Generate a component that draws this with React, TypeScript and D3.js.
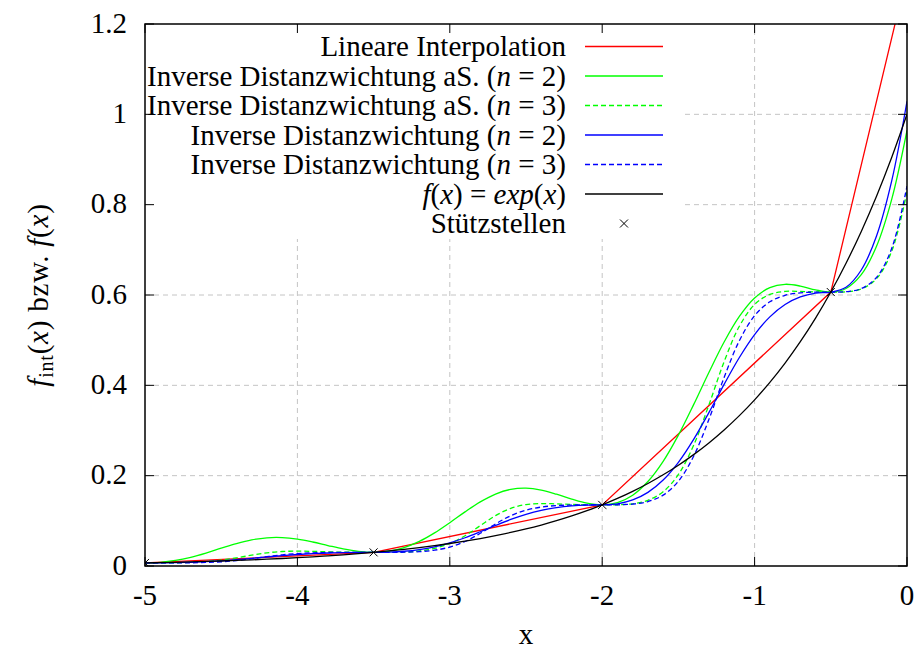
import React from "react";
import * as d3 from "d3";

// sample positions of the curves
const xs = [
  -5.0, -4.9, -4.8, -4.7, -4.6, -4.5, -4.4, -4.3, -4.2, -4.1, -4.0, -3.9, -3.8, -3.7, -3.6, -3.5, -3.4,
  -3.3, -3.2, -3.1, -3.0, -2.9, -2.8, -2.7, -2.6, -2.5, -2.4, -2.3, -2.2, -2.1, -2.0, -1.9, -1.8, -1.7,
  -1.6, -1.5, -1.4, -1.3, -1.2, -1.1, -1.0, -0.9, -0.8, -0.7, -0.6, -0.5, -0.4, -0.3, -0.2, -0.1, 0.0,
];

// f(x) = exp(x)
const expValues = [
  0.00674, 0.00745, 0.00823, 0.0091, 0.01005, 0.01111, 0.01228, 0.01357, 0.015, 0.01657, 0.01832,
  0.02024, 0.02237, 0.02472, 0.02732, 0.0302, 0.03337, 0.03688, 0.04076, 0.04505, 0.04979, 0.05502,
  0.06081, 0.06721, 0.07427, 0.08208, 0.09072, 0.10026, 0.1108, 0.12246, 0.13534, 0.14957, 0.1653,
  0.18268, 0.2019, 0.22313, 0.2466, 0.27253, 0.30119, 0.33287, 0.36788, 0.40657, 0.44933, 0.49659,
  0.54881, 0.60653, 0.67032, 0.74082, 0.81873, 0.90484, 1.0,
];

// Inverse Distanzwichtung aS. (n = 2)
const idwAllN2 = [
  0.00674, 0.00809, 0.01229, 0.01932, 0.02869, 0.03931, 0.0496, 0.05781, 0.06249, 0.06297, 0.0595,
  0.05313, 0.04536, 0.03788, 0.03234, 0.0302, 0.03269, 0.04065, 0.05435, 0.07326, 0.09589, 0.1198,
  0.14193, 0.15927, 0.16964, 0.17229, 0.16803, 0.15899, 0.1482, 0.13913, 0.13534, 0.14021, 0.15671,
  0.18696, 0.23171, 0.28969, 0.35725, 0.42841, 0.49581, 0.55242, 0.5932, 0.6164, 0.62372, 0.61978,
  0.61133, 0.60653, 0.6145, 0.64499, 0.70793, 0.81235, 0.96451,
];

// Inverse Distanzwichtung aS. (n = 3)
const idwAllN3 = [
  0.00674, 0.00677, 0.00704, 0.00788, 0.00972, 0.01305, 0.01803, 0.02393, 0.02911, 0.03212, 0.03289,
  0.03232, 0.03138, 0.03063, 0.03026, 0.0302, 0.03029, 0.03102, 0.03343, 0.03908, 0.04987, 0.06709,
  0.08935, 0.11151, 0.12771, 0.13596, 0.13823, 0.13759, 0.1363, 0.13549, 0.13534, 0.13558, 0.13777,
  0.14543, 0.16439, 0.20268, 0.26738, 0.35652, 0.45241, 0.53069, 0.57899, 0.60125, 0.60791, 0.60798,
  0.60684, 0.60653, 0.60716, 0.61323, 0.63614, 0.69702, 0.82874,
];

// Inverse Distanzwichtung (n = 2)
const idwN2 = [
  0.00674, 0.00686, 0.00728, 0.00812, 0.00948, 0.01143, 0.01396, 0.01691, 0.02002, 0.02298, 0.02551,
  0.02746, 0.02882, 0.02966, 0.03008, 0.0302, 0.03073, 0.03263, 0.03638, 0.04248, 0.05122, 0.06255,
  0.07579, 0.08974, 0.10299, 0.11431, 0.12306, 0.12915, 0.1329, 0.1348, 0.13534, 0.13773, 0.14623,
  0.16305, 0.19037, 0.22957, 0.28032, 0.33966, 0.40221, 0.46155, 0.51229, 0.5515, 0.57882, 0.59564,
  0.60414, 0.60653, 0.61725, 0.65536, 0.73074, 0.85316, 1.02888,
];

// Inverse Distanzwichtung (n = 3)
const idwN3 = [
  0.00674, 0.00675, 0.00682, 0.0071, 0.00781, 0.00935, 0.0121, 0.01615, 0.02079, 0.02483, 0.02759,
  0.02912, 0.02984, 0.03011, 0.03019, 0.0302, 0.03024, 0.03058, 0.03181, 0.03502, 0.04188, 0.05423,
  0.07238, 0.09316, 0.1113, 0.12365, 0.13051, 0.13372, 0.13495, 0.1353, 0.13534, 0.13551, 0.13704,
  0.14258, 0.15695, 0.18769, 0.24304, 0.32437, 0.4175, 0.49883, 0.55418, 0.58491, 0.59928, 0.60482,
  0.60636, 0.60653, 0.6073, 0.61419, 0.63901, 0.70342, 0.84117,
];

// Stützstellen
const nodeX = [-5, -3.5, -2, -0.5, 1];
const nodeY = [0.006738, 0.030197, 0.135335, 0.606531, 2.718282];

const xTicks = [-5, -4, -3, -2, -1, 0];
const xTickLabels = ["-5", "-4", "-3", "-2", "-1", "0"];
const yTicks = [0, 0.2, 0.4, 0.6, 0.8, 1, 1.2];
const yTickLabels = ["0", "0.2", "0.4", "0.6", "0.8", "1", "1.2"];

type Seg = [string, boolean];
const legendLabels: Seg[][] = [
  [["Lineare Interpolation", false]],
  [["Inverse Distanzwichtung aS. (", false], ["n", true], [" = 2)", false]],
  [["Inverse Distanzwichtung aS. (", false], ["n", true], [" = 3)", false]],
  [["Inverse Distanzwichtung (", false], ["n", true], [" = 2)", false]],
  [["Inverse Distanzwichtung (", false], ["n", true], [" = 3)", false]],
  [["f", true], ["(", false], ["x", true], [") = ", false], ["exp", true], ["(", false], ["x", true], [")", false]],
  [["Stützstellen", false]],
];

const W = 919;
const H = 650;
const L = 145, R = 907, T = 24, B = 566;
const FONT = "Liberation Serif, Times New Roman, Times, Nimbus Roman, DejaVu Serif, serif";
const FS = 29;
const TXT: React.CSSProperties = { fontFamily: FONT, fontSize: FS };

export default function App() {
  const x = d3.scaleLinear().domain([-5, 0]).range([L, R]);
  const y = d3.scaleLinear().domain([0, 1.2]).range([B, T]);

  const curve = d3
    .line<number>()
    .x((_, i) => x(xs[i]))
    .y((d) => y(d))
    .curve(d3.curveCatmullRom);

  const linear = d3
    .line<number>()
    .x((_, i) => x(nodeX[i]))
    .y((d) => y(d));

  const series = [
    { key: "lin", path: linear(nodeY), color: "#ff0000", dash: undefined },
    { key: "g2", path: curve(idwAllN2), color: "#00ff00", dash: undefined },
    { key: "g3", path: curve(idwAllN3), color: "#00ff00", dash: "5,3" },
    { key: "b2", path: curve(idwN2), color: "#0000ff", dash: undefined },
    { key: "b3", path: curve(idwN3), color: "#0000ff", dash: "5,3" },
    { key: "exp", path: curve(expValues), color: "#000000", dash: undefined },
  ];

  const legendTextX = 566;
  const legendLineX0 = 585;
  const legendLineX1 = 663;
  const legendY0 = 46.5;
  const legendDy = 29.5;

  const cross = (cx: number, cy: number, s: number) =>
    `M${cx - s},${cy - s}L${cx + s},${cy + s}M${cx - s},${cy + s}L${cx + s},${cy - s}`;

  return (
    <svg
      width={W}
      height={H}
      style={{ position: "absolute", left: 0, top: 0, background: "#fff", fontFamily: FONT }}
    >
      <defs>
        <clipPath id="plotclip">
          <rect x={L} y={T} width={R - L} height={B - T} />
        </clipPath>
      </defs>
      <rect x={0} y={0} width={W} height={H} fill="#fff" />

      {/* grid */}
      <g stroke="#c4c4c4" strokeWidth={1} strokeDasharray="5,4">
        {xTicks.slice(1, -1).map((t) => (
          <line key={"gx" + t} x1={x(t)} x2={x(t)} y1={B} y2={T} />
        ))}
        {yTicks.slice(1, -1).map((t) => (
          <line key={"gy" + t} x1={L} x2={R} y1={y(t)} y2={y(t)} />
        ))}
      </g>

      {/* legend background */}
      <rect x={L + 1} y={T + 1} width={536} height={214} fill="#fff" />

      {/* curves */}
      <g clipPath="url(#plotclip)" fill="none" strokeWidth={1.3}>
        {series.map((s) => (
          <path key={s.key} d={s.path || ""} stroke={s.color} strokeDasharray={s.dash} />
        ))}
        <g stroke="#000" strokeWidth={1}>
          {nodeX.map((nx, i) =>
            nx <= 0 ? <path key={"n" + i} d={cross(x(nx), y(nodeY[i]), 4)} /> : null
          )}
        </g>
      </g>

      {/* ticks */}
      <g stroke="#000" strokeWidth={1}>
        {xTicks.map((t) => (
          <g key={"tx" + t}>
            <line x1={x(t)} x2={x(t)} y1={B} y2={B - 9} />
            <line x1={x(t)} x2={x(t)} y1={T} y2={T + 9} />
          </g>
        ))}
        {yTicks.map((t) => (
          <g key={"ty" + t}>
            <line x1={L} x2={L + 9} y1={y(t)} y2={y(t)} />
            <line x1={R} x2={R - 9} y1={y(t)} y2={y(t)} />
          </g>
        ))}
      </g>
      <rect x={L} y={T} width={R - L} height={B - T} fill="none" stroke="#000" strokeWidth={1.5} />

      {/* tick labels */}
      <g fill="#000">
        {xTicks.map((t, i) => (
          <text key={"lx" + t} x={x(t)} y={605} textAnchor="middle" style={TXT}>
            {xTickLabels[i]}
          </text>
        ))}
        {yTicks.map((t, i) => (
          <text key={"ly" + t} x={127} y={y(t) + 8.5} textAnchor="end" style={TXT}>
            {yTickLabels[i]}
          </text>
        ))}
      </g>

      {/* axis titles */}
      <text x={(L + R) / 2} y={644} textAnchor="middle" style={TXT}>
        x
      </text>
      <text
        transform={`translate(48,${(T + B) / 2}) rotate(-90)`}
        textAnchor="middle"
        style={{ ...TXT, letterSpacing: 0.8 }}
      >
        <tspan fontStyle="italic">f</tspan>
        <tspan style={{ fontSize: 20 }} dy={5}>int</tspan>
        <tspan dy={-5}>(</tspan>
        <tspan fontStyle="italic">x</tspan>
        <tspan>) bzw. </tspan>
        <tspan fontStyle="italic">f</tspan>
        <tspan>(</tspan>
        <tspan fontStyle="italic">x</tspan>
        <tspan>)</tspan>
      </text>

      {/* legend */}
      <g>
        {legendLabels.map((segs, i) => {
          const ly = legendY0 + i * legendDy;
          return (
            <g key={"leg" + i}>
              <text x={legendTextX} y={ly + 9.5} textAnchor="end" style={TXT}>
                {segs.map(([txt, it], j) => (
                  <tspan key={j} fontStyle={it ? "italic" : "normal"}>
                    {txt}
                  </tspan>
                ))}
              </text>
              {i < series.length ? (
                <line
                  x1={legendLineX0}
                  x2={legendLineX1}
                  y1={ly}
                  y2={ly}
                  stroke={series[i].color}
                  strokeWidth={1.3}
                  strokeDasharray={series[i].dash}
                />
              ) : (
                <path
                  d={cross((legendLineX0 + legendLineX1) / 2, ly, 4)}
                  stroke="#000"
                  strokeWidth={1}
                  fill="none"
                />
              )}
            </g>
          );
        })}
      </g>
    </svg>
  );
}
